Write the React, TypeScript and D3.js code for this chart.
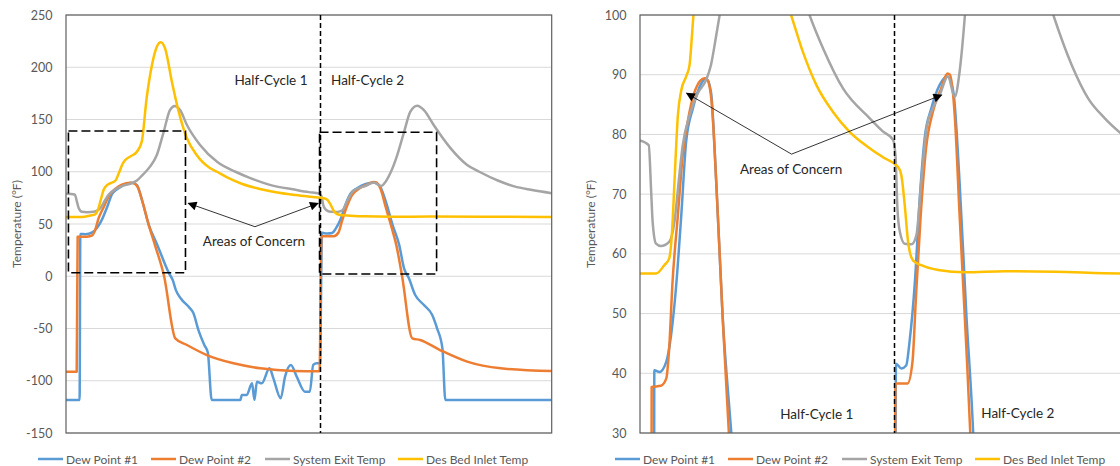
import React, { useEffect, useRef } from "react";
import * as d3 from "d3";

// x = elapsed time as % of the full cycle, y = temperature in °F
const dewPoint1: [number, number][] = [
  [0, -118.4], [2.8, -118.4], [2.95, 40.5], [4.0, 40.2], [5.4, 41.9], [6.4, 46.4], [7.4, 54.2],
  [8.5, 66.5], [9.5, 78.8], [10.9, 84.4], [12.6, 88.5], [13.6, 89.4], [14.6, 87.2], [15.7, 72],
  [17.0, 49.7], [18.8, 30], [21.2, 3], [22.0, -4], [22.6, -13], [23.6, -21], [25.4, -30],
  [26.2, -35], [27.3, -52], [28.5, -66], [29.2, -73], [30.0, -118.4], [35.9, -118.4],
  [36.2, -113.6], [37.2, -113.6], [38.3, -102.5], [38.8, -118.4], [39.3, -101], [40.3, -102.5],
  [41.9, -88.1], [42.7, -97.7], [44.2, -116.8], [45.1, -96], [46.3, -84.9], [47.5, -96],
  [49.2, -110.5], [50.2, -110.5], [50.9, -84.9], [51.6, -83.3], [52.3, -83.3], [52.7, 41.6],
  [53.8, 40.8], [54.8, 41.3], [55.5, 45.3], [56.6, 55.3], [57.6, 69.3], [58.6, 79.3], [60, 84.4],
  [61.7, 88.3], [63.3, 89.7], [64.5, 87.2], [65.8, 72], [67.2, 49.7], [68.6, 30], [69.6, 7.6],
  [70.6, -2], [71.9, -18], [73.7, -27.5], [75.4, -37], [76.4, -49.8], [77.5, -69], [78.1, -118.4],
  [100, -118.4],
];

const dewPoint2: [number, number][] = [
  [0, -91.3], [2.2, -91.3], [2.4, 37.7], [4.3, 37.9], [5.4, 39.1], [6.0, 44.1], [6.7, 55.3],
  [7.8, 66.5], [8.8, 76.5], [10.2, 83.8], [11.5, 87.7], [13.3, 89.4], [13.9, 89.1], [14.8, 84.9],
  [15.7, 72], [17.0, 49.7], [18.3, 30], [20.2, 0], [22.5, -59.4], [24.9, -65.8], [29, -75.4],
  [34.5, -83.3], [40, -88.1], [46.9, -90.7], [52.2, -91], [52.6, 38.3], [55.1, 38.3], [56.1, 41.9],
  [56.8, 52.5], [57.8, 66.5], [58.9, 77.7], [60.3, 83.8], [62, 87.7], [63.3, 90.2], [63.8, 90],
  [64.8, 83.2], [65.8, 66.5], [67.2, 44.1], [68, 30], [69.2, 0], [71.3, -59.4], [72.9, -61],
  [77, -70.6], [82.6, -81.7], [89.5, -88.1], [100, -90.7],
];

const systemExit: [number, number][] = [
  [0, 79], [1.8, 78.2], [2.3, 70.4], [2.6, 65.4], [3.3, 61.7], [4.3, 61.3], [6.0, 62], [7.1, 65.4],
  [8.1, 73.2], [8.8, 78.2], [10.2, 83.2], [11.9, 86.9], [13.6, 89.1], [14.6, 91.6], [15.7, 96.6],
  [16.4, 100], [17.3, 104.9], [18.7, 116], [20.1, 138], [21.4, 159], [22.4, 163], [23.5, 159],
  [24.9, 144.7], [27.6, 125.6], [31.1, 109.6], [34.9, 100], [37.7, 94.4], [41.8, 87.7],
  [47.3, 82.7], [50, 80.5], [52.1, 79.1], [52.6, 76.5], [53, 67.6], [53.5, 63.7], [54.5, 61.7],
  [55.9, 61.6], [56.9, 63.1], [57.9, 72], [59, 81], [60.3, 84.4], [61.7, 86.6], [63.4, 89.7],
  [64.8, 86.3], [65.8, 90.5], [66.9, 100], [68.2, 116], [69.6, 138], [70.9, 157.5], [72.3, 163.2],
  [73.7, 159], [75.7, 144.7], [79.2, 122.4], [82.6, 106.5], [85.1, 100], [88.9, 91.6],
  [92.3, 86], [95.7, 82.7], [100, 79.5],
];

const desBedInlet: [number, number][] = [
  [0, 56.7], [3.3, 56.7], [5.0, 58.1], [6.0, 59.2], [6.6, 63.7], [7.1, 72.1], [7.8, 83.2],
  [8.5, 87.4], [9.5, 89.7], [10.2, 91.6], [10.7, 96.6], [11.0, 100], [11.6, 107], [12.2, 111.2],
  [13.4, 115], [14.6, 119.2], [15.6, 128.8], [16.6, 170.3], [17.7, 202.2], [18.7, 219.7],
  [19.5, 224], [20.4, 218], [21.8, 186.2], [23.2, 157.5], [24.9, 132], [26.9, 116], [29.7, 103.3],
  [31.1, 100], [33.5, 93.9], [36.3, 88.3], [39.7, 83.8], [43.2, 80.4], [47.3, 77.7], [50.4, 76],
  [53.1, 74.6], [53.8, 73.2], [54.5, 68.2], [55.2, 62], [56.2, 58.9], [57.9, 58.1], [61.4, 57.3],
  [66.9, 56.9], [75.1, 57.1], [85.4, 57], [99.2, 56.7], [100, 56.7],
];

const seriesNames = ["Dew Point #1", "Dew Point #2", "System Exit Temp", "Des Bed Inlet Temp"];
const seriesColors = ["#5B9BD5", "#ED7D31", "#A5A5A5", "#FFC000"];
const allSeries = [dewPoint1, dewPoint2, systemExit, desBedInlet];

const halfCycleSplit = 52.4;
const fullTicks = [-150, -100, -50, 0, 50, 100, 150, 200, 250];
const zoomTicks = [30, 40, 50, 60, 70, 80, 90, 100];

// dashed "areas of concern" boxes: [t0, t1, vLow, vHigh]
const concernBoxes = [
  [0.5, 24.6, 3.4, 139],
  [52.2, 76.3, 2.2, 137.8],
];

const fullLabels = [
  { text: "Half-Cycle 1", t: 42.2, v: 187.8 },
  { text: "Half-Cycle 2", t: 62.1, v: 187.8 },
  { text: "Areas of Concern", t: 38.7, v: 33.7 },
];
const fullArrows = [
  { from: [38.9, 47.4], to: [25.2, 69.8] },
  { from: [38.9, 47.4], to: [51.9, 69.8] },
];

const zoomLabels = [
  { text: "Half-Cycle 1", t: 36.4, v: 33.2 },
  { text: "Half-Cycle 2", t: 77.8, v: 33.4 },
  { text: "Areas of Concern", t: 31.1, v: 74.2 },
];
const zoomArrows = [
  { from: [31.2, 76.7], to: [9.6, 86.9] },
  { from: [31.2, 76.7], to: [62.1, 86.6] },
];

const FONT = "Lato, 'Noto Sans', sans-serif";

type PanelProps = {
  id: string;
  left: number;
  legendX: number;
  yDomain: [number, number];
  ticks: number[];
  boxes: number[][];
  labels: { text: string; t: number; v: number }[];
  arrows: { from: number[]; to: number[] }[];
};

function drawPanel(svg: d3.Selection<SVGSVGElement, unknown, null, undefined>, p: PanelProps) {
  const top = 15;
  const width = 485.7;
  const height = 418;

  const x = d3.scaleLinear().domain([0, 100]).range([p.left, p.left + width]);
  const y = d3.scaleLinear().domain(p.yDomain).range([top + height, top]);

  const g = svg.append("g");

  g.append("defs").append("clipPath").attr("id", "clip-" + p.id)
    .append("rect")
    .attr("x", p.left).attr("y", top)
    .attr("width", width).attr("height", height);

  // gridlines
  g.selectAll(".grid")
    .data(p.ticks)
    .enter().append("line")
    .attr("x1", p.left).attr("x2", p.left + width)
    .attr("y1", (d) => y(d)).attr("y2", (d) => y(d))
    .attr("stroke", "#D9D9D9")
    .attr("stroke-width", 1);

  // tick labels
  g.selectAll(".tick")
    .data(p.ticks)
    .enter().append("text")
    .attr("x", p.left - 13.5)
    .attr("y", (d) => y(d))
    .attr("text-anchor", "end")
    .attr("dominant-baseline", "central")
    .attr("font-family", FONT)
    .attr("font-size", 12.5)
    .attr("fill", "#595959")
    .text((d) => d);

  // axis title
  g.append("text")
    .attr("transform", `translate(${p.left - 50}, ${top + height / 2}) rotate(-90)`)
    .attr("text-anchor", "middle")
    .attr("dominant-baseline", "central")
    .attr("font-family", FONT)
    .attr("font-size", 12)
    .attr("fill", "#595959")
    .text("Temperature (°F)");

  // series
  const line = d3.line<[number, number]>()
    .curve(d3.curveMonotoneX)
    .x((d) => x(d[0]))
    .y((d) => y(d[1]));

  const lines = g.append("g").attr("clip-path", `url(#clip-${p.id})`);
  allSeries.forEach((s, i) => {
    lines.append("path")
      .datum(s)
      .attr("fill", "none")
      .attr("stroke", seriesColors[i])
      .attr("stroke-width", 2.5)
      .attr("stroke-linejoin", "round")
      .attr("d", line);
  });

  // plot border
  g.append("rect")
    .attr("x", p.left).attr("y", top)
    .attr("width", width).attr("height", height)
    .attr("fill", "none")
    .attr("stroke", "#5f5f5f")
    .attr("stroke-width", 1.2);

  // half-cycle divider
  g.append("line")
    .attr("x1", x(halfCycleSplit)).attr("x2", x(halfCycleSplit))
    .attr("y1", top).attr("y2", top + height)
    .attr("stroke", "#000")
    .attr("stroke-width", 1.5)
    .attr("stroke-dasharray", "5,3");

  // concern boxes
  p.boxes.forEach((b) => {
    g.append("rect")
      .attr("x", x(b[0])).attr("y", y(b[3]))
      .attr("width", x(b[1]) - x(b[0]))
      .attr("height", y(b[2]) - y(b[3]))
      .attr("fill", "none")
      .attr("stroke", "#000")
      .attr("stroke-width", 1.6)
      .attr("stroke-dasharray", "9,4");
  });

  // arrows
  g.append("defs").append("marker")
    .attr("id", "arrow-" + p.id)
    .attr("viewBox", "0 0 10 10")
    .attr("refX", 9).attr("refY", 5)
    .attr("markerWidth", 11).attr("markerHeight", 9)
    .attr("markerUnits", "userSpaceOnUse")
    .attr("orient", "auto")
    .append("path")
    .attr("d", "M0,0 L10,5 L0,10 z")
    .attr("fill", "#000");

  p.arrows.forEach((a) => {
    g.append("line")
      .attr("x1", x(a.from[0])).attr("y1", y(a.from[1]))
      .attr("x2", x(a.to[0])).attr("y2", y(a.to[1]))
      .attr("stroke", "#000")
      .attr("stroke-width", 0.8)
      .attr("marker-end", `url(#arrow-${p.id})`);
  });

  p.labels.forEach((l) => {
    g.append("text")
      .attr("x", x(l.t)).attr("y", y(l.v))
      .attr("text-anchor", "middle")
      .attr("dominant-baseline", "central")
      .attr("font-family", FONT)
      .attr("font-size", 13.5)
      .attr("fill", "#262626")
      .text(l.text);
  });

  // legend
  const legendOffsets = [38, 151, 265, 398];
  const legendY = 459;
  seriesNames.forEach((name, i) => {
    const lx = p.legendX + legendOffsets[i];
    g.append("line")
      .attr("x1", lx).attr("x2", lx + 25)
      .attr("y1", legendY).attr("y2", legendY)
      .attr("stroke", seriesColors[i])
      .attr("stroke-width", 2.5);
    g.append("text")
      .attr("x", lx + 28).attr("y", legendY)
      .attr("dominant-baseline", "central")
      .attr("font-family", FONT)
      .attr("font-size", 12)
      .attr("fill", "#595959")
      .text(name);
  });
}

export default function App() {
  const ref = useRef<SVGSVGElement>(null);

  useEffect(() => {
    const svg = d3.select(ref.current!);
    svg.selectAll("*").remove();

    drawPanel(svg, {
      id: "full",
      left: 66,
      legendX: 0,
      yDomain: [-150, 250],
      ticks: fullTicks,
      boxes: concernBoxes,
      labels: fullLabels,
      arrows: fullArrows,
    });

    drawPanel(svg, {
      id: "zoom",
      left: 640,
      legendX: 577,
      yDomain: [30, 100],
      ticks: zoomTicks,
      boxes: [],
      labels: zoomLabels,
      arrows: zoomArrows,
    });
  }, []);

  return (
    <div style={{ position: "absolute", left: 0, top: 0 }}>
      <svg ref={ref} width={1120} height={466} style={{ display: "block", background: "#fff" }} />
    </div>
  );
}
